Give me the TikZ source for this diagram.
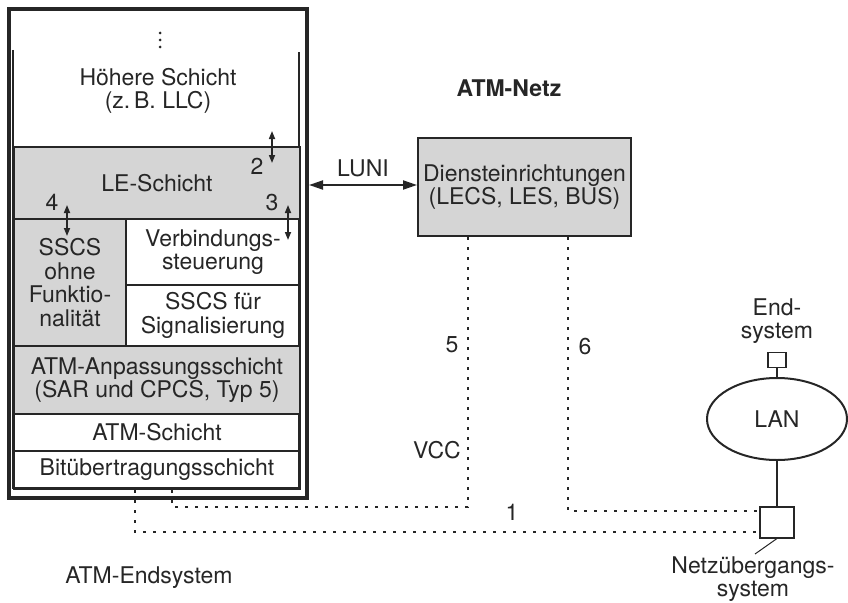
\documentclass[tikz,border=0pt]{standalone}
\usepackage{fontspec}
\setmainfont{TeX Gyre Heros}
\usetikzlibrary{calc, arrows.meta, shapes.geometric}
\definecolor{ink}{HTML}{262626}
\definecolor{shade}{HTML}{D5D5D5}

\begin{document}
\begin{tikzpicture}[x=1pt, y=-1pt, ink,
  every node/.style={font=\fontsize{23}{23.5}\selectfont, text=ink, align=center},
  layer/.style={draw=ink, line width=2pt, anchor=north west, inner sep=0pt},
  tinyarrow/.style={{Triangle[length=8pt,width=6pt]}-{Triangle[length=8pt,width=6pt]}, line width=1.6pt},
  dotline/.style={line width=2.6pt, dash pattern=on 2.6pt off 7.4pt}]
  \useasboundingbox (0,0) rectangle (848,602);
  % Endsystem: Rahmen und Schichten
  \node[layer, line width=4pt, minimum width=298pt, minimum height=489pt] (endsys) at (7,7) {};
  \draw[line width=2pt] (13,50) -- (13,488) -- (299,488) -- (299,52);
  \foreach \y in {33,40,47} \fill (160,\y) circle (1.5pt);
  \node (hoeher) at (158,91) {Höhere Schicht\\(z.\,B. LLC)};
  \node[layer, fill=shade, minimum width=286pt, minimum height=72pt] (le) at (13,146) {LE-Schicht};
  \node[layer, fill=shade, minimum width=112pt, minimum height=127pt] (ohne) at (13,218) {SSCS\\ohne\\Funktio-\\nalität};
  \node[layer, minimum width=174pt, minimum height=66pt] (verb) at (125,218) {Verbindungs-\\steuerung};
  \node[layer, minimum width=174pt, minimum height=61pt] (sig) at (125,284) {SSCS für\\Signalisierung};
  \node[layer, fill=shade, minimum width=286pt, minimum height=68pt] (aal) at (13,345) {ATM-Anpassungsschicht\\(SAR und CPCS, Typ 5)};
  \node[layer, minimum width=286pt, minimum height=37pt] (atm) at (13,413) {ATM-Schicht};
  \node[layer, minimum width=286pt, minimum height=38pt] (phy) at (13,450) {Bitübertragungsschicht};
  % Schnittstellen 2, 3, 4
  \coordinate (p2a) at (272,131); \coordinate (p2b) at (272,163);
  \coordinate (p3a) at (288,205); \coordinate (p3b) at (288,240);
  \coordinate (p4a) at (67,205);  \coordinate (p4b) at (67,236);
  \draw[tinyarrow] (p2a) -- (p2b);
  \draw[tinyarrow] (p3a) -- (p3b);
  \draw[tinyarrow] (p4a) -- (p4b);
  \node (n2) at (257,166) {2};
  \node (n3) at (272,203) {3};
  \node (n4) at (52,202) {4};
  % ATM-Netz
  \node[font=\fontsize{23}{23.5}\selectfont\bfseries] (netz) at (509,88) {ATM-Netz};
  \node[layer, fill=shade, minimum width=213pt, minimum height=98pt] (dienst) at (417,137) {Diensteinrichtungen\\(LECS, LES, BUS)};
  \draw[{Triangle[length=14pt,width=9pt]}-{Triangle[length=14pt,width=9pt]}, line width=2pt]
    ($(endsys.east |- dienst.west)+(0,-2)$) -- ($(dienst.west)+(0,-2)$) node[midway, above=4pt] (luni) {LUNI};
  % LAN mit Netzuebergang
  \node[draw=ink, line width=2pt, ellipse, minimum width=140pt, minimum height=82pt] (lan) at (777,419) {LAN};
  \node[draw=ink, line width=1.6pt, minimum width=18pt, minimum height=15pt, inner sep=0pt] (es) at (777,360) {};
  \node (eslabel) at (777,321) {End-\\system};
  \node[draw=ink, line width=2pt, minimum width=34pt, minimum height=31pt, inner sep=0pt] (gw) at (777,522) {};
  \draw[line width=1.6pt] (es.south) -- (lan.north);
  \draw[line width=2pt] (lan.south) -- (gw.north);
  \coordinate (gwtip) at (755,554);
  \draw[line width=1pt] (gw.south) -- (gwtip);
  \node (gwlabel) at (753,579) {Netzübergangs-\\system};
  % VCCs (gepunktet)
  \draw[dotline] ($(dienst.south west)+(51,0)$) |- (172,507) -- (172,490);
  \draw[dotline] ($(dienst.south west)+(151,0)$) |- (gw.west |- 0,511);
  \draw[dotline] (135,490) |- (gw.west |- 0,532);
  \node (n5) at (452,345) {5};
  \node (n6) at (585,347) {6};
  \node (vcc) at (437,450) {VCC};
  \node (n1) at (512,512) {1};
  \node (endlabel) at (149,578) {ATM-Endsystem};
\end{tikzpicture}
\end{document}
